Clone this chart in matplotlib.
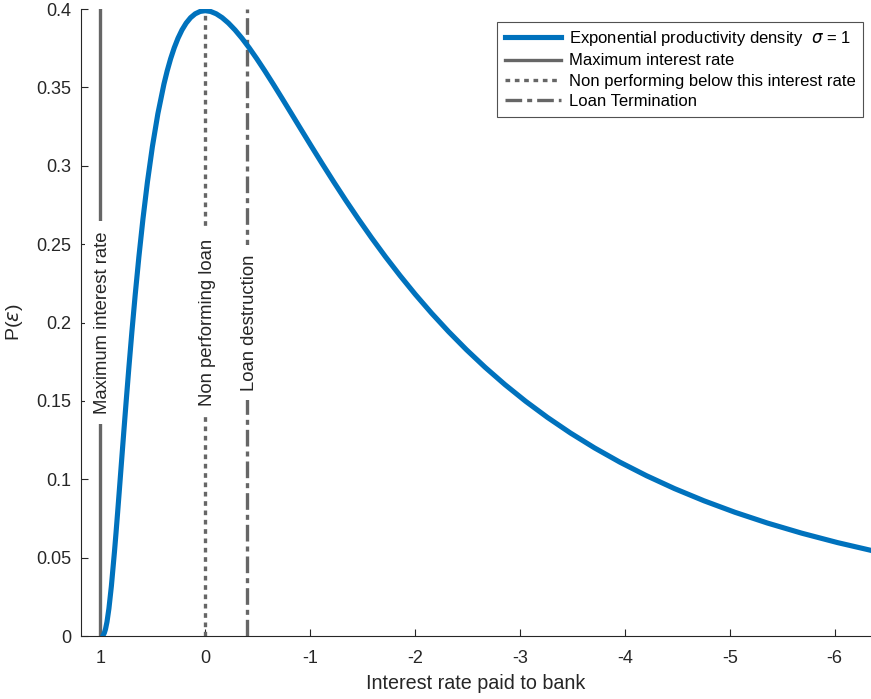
import matplotlib
matplotlib.use("Agg")
import matplotlib.pyplot as plt

plt.rcParams['font.family'] = ['Liberation Sans', 'DejaVu Sans']
plt.rcParams['mathtext.fontset'] = 'dejavusans'

# density curve (x = interest rate, y = P(eps))
rate = [0.9698, 0.9612, 0.9502, 0.9361, 0.9179, 0.8946, 0.8647, 0.8504, 0.8347,
        0.8173, 0.7981, 0.7769, 0.7534, 0.7275, 0.6988, 0.6671, 0.6321, 0.5934,
        0.5507, 0.5034, 0.4512, 0.3935, 0.3624, 0.3297, 0.2953, 0.2592, 0.2212,
        0.1813, 0.1393, 0.0952, 0.0488, 0.0,
        -0.0513, -0.1052, -0.1618, -0.2214, -0.2840, -0.3499, -0.4191, -0.4918,
        -0.5683, -0.6487, -0.7333, -0.8221, -0.9155, -1.0138, -1.1170, -1.2255,
        -1.3396, -1.4596, -1.5857, -1.7183, -1.8577, -2.0042, -2.1582, -2.3201,
        -2.4903, -2.6693, -2.8574, -3.0552, -3.2631, -3.4817, -3.7115, -3.9530,
        -4.2070, -4.4739, -4.7546, -5.0496, -5.3598, -5.6859, -6.0287, -6.3891]
dens = [0.00087, 0.00203, 0.00443, 0.00909, 0.01753, 0.03174, 0.05399, 0.06562, 0.07895,
        0.09405, 0.11092, 0.12952, 0.14973, 0.17137, 0.19419, 0.21785, 0.24197, 0.26609,
        0.28969, 0.31225, 0.33323, 0.35207, 0.36053, 0.36827, 0.37524, 0.38139, 0.38667,
        0.39104, 0.39448, 0.39695, 0.39844, 0.39894,
        0.39844, 0.39695, 0.39448, 0.39104, 0.38667, 0.38139, 0.37524, 0.36827,
        0.36053, 0.35207, 0.34294, 0.33323, 0.32297, 0.31225, 0.30114, 0.28969,
        0.27798, 0.26609, 0.25406, 0.24197, 0.22990, 0.21785, 0.20594, 0.19419,
        0.18265, 0.17137, 0.16039, 0.14973, 0.13944, 0.12952, 0.12001, 0.11092,
        0.10227, 0.09405, 0.08628, 0.07895, 0.07207, 0.06562, 0.05959, 0.05399]

max_rate = 1.0
nonperf_rate = 0.0
term_rate = -0.4

yticks = [0, 0.05, 0.1, 0.15, 0.2, 0.25, 0.3, 0.35, 0.4]
ytick_labels = ['0', '0.05', '0.1', '0.15', '0.2', '0.25', '0.3', '0.35', '0.4']
xticks = [1, 0, -1, -2, -3, -4, -5, -6]

blue = '#0072BD'
gray = '#666666'
dark = '#262626'

fig = plt.figure(figsize=(8.71, 6.99), dpi=100)
ax = fig.add_axes([0.093, 0.0901, 0.907, 0.897])

ax.plot(rate, dens, color=blue, lw=3.7, label=r'Exponential productivity density  $\sigma$ = 1',
        zorder=3, solid_joinstyle='round')
ax.plot([max_rate, max_rate], [0, 0.4], color=gray, lw=2.4, label='Maximum interest rate', zorder=2)
ax.plot([nonperf_rate, nonperf_rate], [0, 0.4], color=gray, lw=2.4, ls=(0, (1.4, 1.4)),
        label='Non performing below this interest rate', zorder=2)
ax.plot([term_rate, term_rate], [0, 0.4], color=gray, lw=2.4, ls=(0, (5, 1.5, 1.5, 1.5)),
        label='Loan Termination', zorder=2)

# labels sit on the lines, white box hides the line behind them
bb = dict(facecolor='white', edgecolor='none', pad=7)
off = 0.025
ax.text(max_rate - off, 0.2, 'Maximum interest rate', rotation=90, ha='center', va='center',
        fontsize=13.3, color=dark, bbox=bb, zorder=2.5)
ax.text(nonperf_rate - off, 0.2, 'Non performing loan', rotation=90, ha='center', va='center',
        fontsize=13.3, color=dark, bbox=bb, zorder=2.5)
ax.text(term_rate - off, 0.2, 'Loan destruction', rotation=90, ha='center', va='center',
        fontsize=13.3, color=dark, bbox=bb, zorder=2.5)

ax.set_xlim(1.184, -6.347)
ax.set_ylim(0, 0.4)
ax.set_xticks(xticks)
ax.set_xticklabels([str(t) for t in xticks])
ax.set_yticks(yticks)
ax.set_yticklabels(ytick_labels)
ax.tick_params(direction='in', length=5, width=0.8, colors=dark, labelsize=13, pad=7)
ax.tick_params(axis='x', pad=10)
for s in ['top', 'right']:
    ax.spines[s].set_visible(False)
for s in ['left', 'bottom']:
    ax.spines[s].set_color(dark)
    ax.spines[s].set_linewidth(0.8)

ax.set_xlabel('Interest rate paid to bank', fontsize=14.2, color=dark, labelpad=5)
ax.set_ylabel(r'P($\epsilon$)', fontsize=14, color=dark, labelpad=8)

leg = ax.legend(loc='upper right', bbox_to_anchor=(0.99, 0.98), fontsize=12, frameon=True,
                fancybox=False, edgecolor=dark, handlelength=3.4, handletextpad=0.45,
                borderpad=0.45, labelspacing=0.32, borderaxespad=0)
leg.get_frame().set_linewidth(0.8)

fig.savefig('out.png', dpi=100)
